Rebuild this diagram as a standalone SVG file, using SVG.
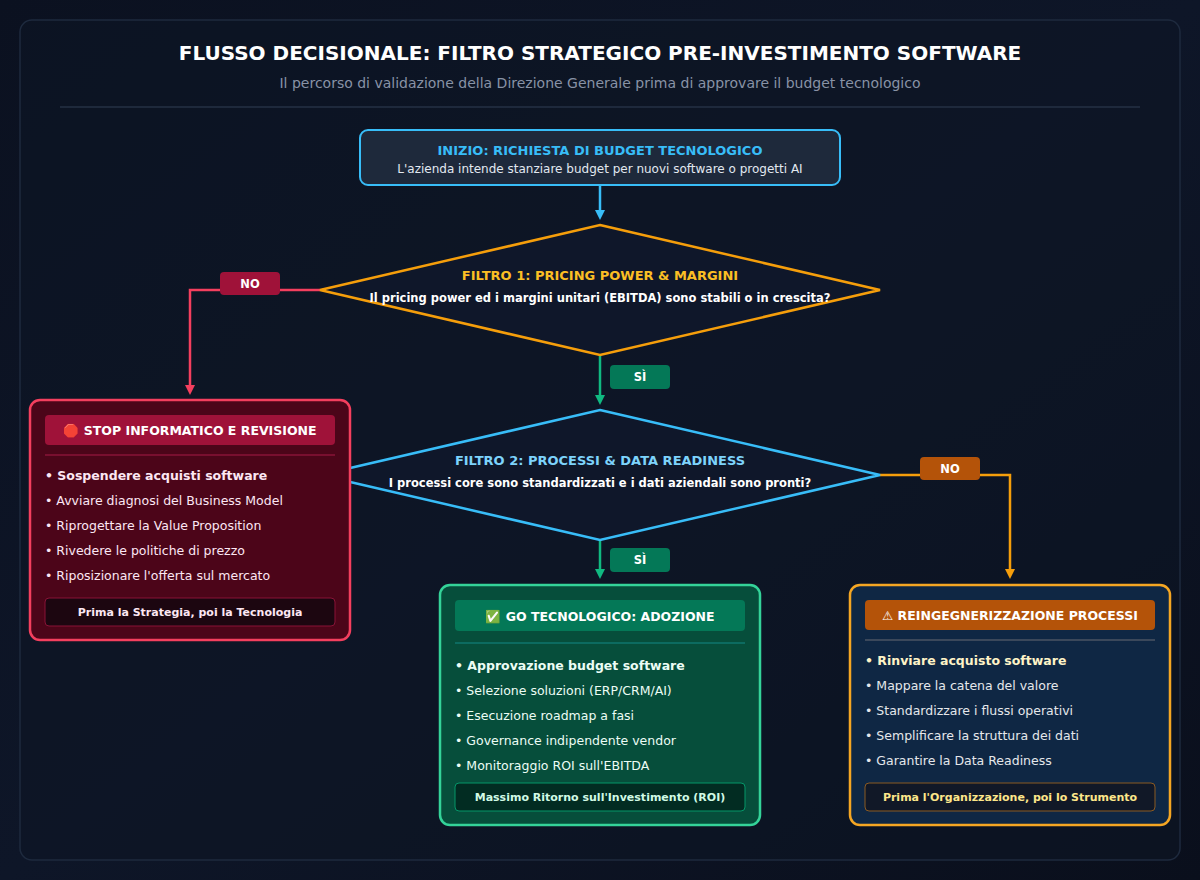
<svg xmlns="http://www.w3.org/2000/svg" width="1200" height="880" viewBox="0 0 1200 880">
<defs>
<linearGradient id="bg" x1="0" y1="0" x2="1" y2="1"><stop offset="0" stop-color="#0b1120"/><stop offset="0.5" stop-color="#0e1628"/><stop offset="1" stop-color="#0a0f1c"/></linearGradient>
<marker id="aB" markerWidth="10" markerHeight="10" refX="5" refY="5" orient="auto" markerUnits="userSpaceOnUse"><path d="M0,0 L10,5 L0,10 z" fill="#38bdf8"/></marker>
<marker id="aR" markerWidth="10" markerHeight="10" refX="5" refY="5" orient="auto" markerUnits="userSpaceOnUse"><path d="M0,0 L10,5 L0,10 z" fill="#f43f5e"/></marker>
<marker id="aG" markerWidth="10" markerHeight="10" refX="5" refY="5" orient="auto" markerUnits="userSpaceOnUse"><path d="M0,0 L10,5 L0,10 z" fill="#10b981"/></marker>
<marker id="aO" markerWidth="10" markerHeight="10" refX="5" refY="5" orient="auto" markerUnits="userSpaceOnUse"><path d="M0,0 L10,5 L0,10 z" fill="#f59e0b"/></marker>
</defs>
<style>
text{font-family:"DejaVu Sans","Noto Sans",sans-serif}
.t{font-weight:bold;text-anchor:middle}
.li{font-size:12.5px}
.c{text-anchor:middle}
.lbl{font-size:11.5px;font-weight:bold;fill:#fff;text-anchor:middle}
</style>
<rect width="1200" height="880" fill="url(#bg)"/>
<rect x="20" y="20" width="1160" height="840" rx="12" fill="#0d1525" fill-opacity="0.6" stroke="#1e2a3e" stroke-width="1.5"/>
<text x="600" y="60" class="t" font-size="20" fill="#ffffff">FLUSSO DECISIONALE: FILTRO STRATEGICO PRE-INVESTIMENTO SOFTWARE</text>
<text x="600" y="88" class="c" font-size="14" fill="#8892a6">Il percorso di validazione della Direzione Generale prima di approvare il budget tecnologico</text>
<line x1="60" y1="107" x2="1140" y2="107" stroke="#243044" stroke-width="1.5"/>

<g id="connectors" fill="none" stroke-width="2.5">
<path d="M600,185 V215" stroke="#38bdf8" marker-end="url(#aB)"/>
<path d="M320,290 H190 V390" stroke="#f43f5e" marker-end="url(#aR)"/>
<path d="M600,355 V400" stroke="#10b981" marker-end="url(#aG)"/>
<path d="M880,475 H1010 V574" stroke="#f59e0b" marker-end="url(#aO)"/>
<path d="M600,540 V574" stroke="#10b981" marker-end="url(#aG)"/>
<rect x="220" y="272" width="60" height="23" rx="4" fill="#9f1239" stroke="none"/>
<text x="250" y="288" class="lbl" stroke="none">NO</text>
<rect x="610" y="365" width="60" height="24" rx="4" fill="#047857" stroke="none"/>
<text x="640" y="381" class="lbl" stroke="none">SÌ</text>
<rect x="920" y="457" width="60" height="23" rx="4" fill="#b45309" stroke="none"/>
<text x="950" y="473" class="lbl" stroke="none">NO</text>
<rect x="610" y="548" width="60" height="24" rx="4" fill="#047857" stroke="none"/>
<text x="640" y="564" class="lbl" stroke="none">SÌ</text>
</g>

<g id="start">
<rect x="360" y="130" width="480" height="55" rx="8" fill="#1e293b" stroke="#38bdf8" stroke-width="2"/>
<text x="600" y="155" class="t" font-size="13" fill="#38bdf8">INIZIO: RICHIESTA DI BUDGET TECNOLOGICO</text>
<text x="600" y="173" class="c" font-size="12" fill="#e2e8f0">L'azienda intende stanziare budget per nuovi software o progetti AI</text>
</g>

<g id="filtro1">
<polygon points="600,225 880,290 600,355 320,290" fill="#0f172a" stroke="#f59e0b" stroke-width="2.5"/>
<text x="600" y="280" class="t" font-size="13" fill="#fbbf24">FILTRO 1: PRICING POWER &amp; MARGINI</text>
<text x="600" y="302" class="t" font-size="11.5" fill="#ffffff">Il pricing power ed i margini unitari (EBITDA) sono stabili o in crescita?</text>
</g>

<g id="filtro2">
<polygon points="600,410 880,475 600,540 320,475" fill="#0f172a" stroke="#38bdf8" stroke-width="2.5"/>
<text x="600" y="465" class="t" font-size="13" fill="#7dd3fc">FILTRO 2: PROCESSI &amp; DATA READINESS</text>
<text x="600" y="487" class="t" font-size="11.5" fill="#ffffff">I processi core sono standardizzati e i dati aziendali sono pronti?</text>
</g>

<g id="stop">
<rect x="30" y="400" width="320" height="240" rx="10" fill="#4c0519" stroke="#f43f5e" stroke-width="2.5"/>
<rect x="45" y="415" width="290" height="30" rx="4" fill="#9f1239"/>
<text x="190" y="435" class="t" font-size="12.5" fill="#ffffff">🛑 STOP INFORMATICO E REVISIONE</text>
<line x1="45" y1="455" x2="335" y2="455" stroke="#881337" stroke-width="1.5"/>
<g fill="#fce7f3" class="li">
<text x="45" y="480" font-weight="bold">• Sospendere acquisti software</text>
<text x="45" y="505">• Avviare diagnosi del Business Model</text>
<text x="45" y="530">• Riprogettare la Value Proposition</text>
<text x="45" y="555">• Rivedere le politiche di prezzo</text>
<text x="45" y="580">• Riposizionare l'offerta sul mercato</text>
</g>
<rect x="45" y="598" width="290" height="28" rx="4" fill="#1c0610" stroke="#881337"/>
<text x="190" y="616" class="t" font-size="11" fill="#fce7f3">Prima la Strategia, poi la Tecnologia</text>
</g>

<g id="go">
<rect x="440" y="585" width="320" height="240" rx="10" fill="#064e3b" stroke="#34d399" stroke-width="2.5"/>
<rect x="455" y="600" width="290" height="31" rx="4" fill="#047857"/>
<text x="600" y="621" class="t" font-size="12.5" fill="#ffffff">✅ GO TECNOLOGICO: ADOZIONE</text>
<line x1="455" y1="643" x2="745" y2="643" stroke="#0f766e" stroke-width="1.5"/>
<g fill="#ecfdf5" class="li">
<text x="455" y="670" font-weight="bold">• Approvazione budget software</text>
<text x="455" y="695">• Selezione soluzioni (ERP/CRM/AI)</text>
<text x="455" y="720">• Esecuzione roadmap a fasi</text>
<text x="455" y="745">• Governance indipendente vendor</text>
<text x="455" y="770">• Monitoraggio ROI sull'EBITDA</text>
</g>
<rect x="455" y="783" width="290" height="28" rx="4" fill="#022c22" stroke="#059669"/>
<text x="600" y="801" class="t" font-size="11" fill="#d1fae5">Massimo Ritorno sull'Investimento (ROI)</text>
</g>

<g id="reeng">
<rect x="850" y="585" width="320" height="240" rx="10" fill="#0f2744" stroke="#f5a623" stroke-width="2.5"/>
<rect x="865" y="600" width="290" height="30" rx="4" fill="#b45309"/>
<text x="1010" y="620" class="t" font-size="12.5" fill="#ffffff">⚠ REINGEGNERIZZAZIONE PROCESSI</text>
<line x1="865" y1="640" x2="1155" y2="640" stroke="#4b5563" stroke-width="1.5"/>
<g fill="#e5e7eb" class="li">
<text x="865" y="665" font-weight="bold" fill="#fef3c7">• Rinviare acquisto software</text>
<text x="865" y="690">• Mappare la catena del valore</text>
<text x="865" y="715">• Standardizzare i flussi operativi</text>
<text x="865" y="740">• Semplificare la struttura dei dati</text>
<text x="865" y="765">• Garantire la Data Readiness</text>
</g>
<rect x="865" y="783" width="290" height="28" rx="4" fill="#111827" stroke="#8a5a23"/>
<text x="1010" y="801" class="t" font-size="11" fill="#fde68a">Prima l'Organizzazione, poi lo Strumento</text>
</g>
</svg>
